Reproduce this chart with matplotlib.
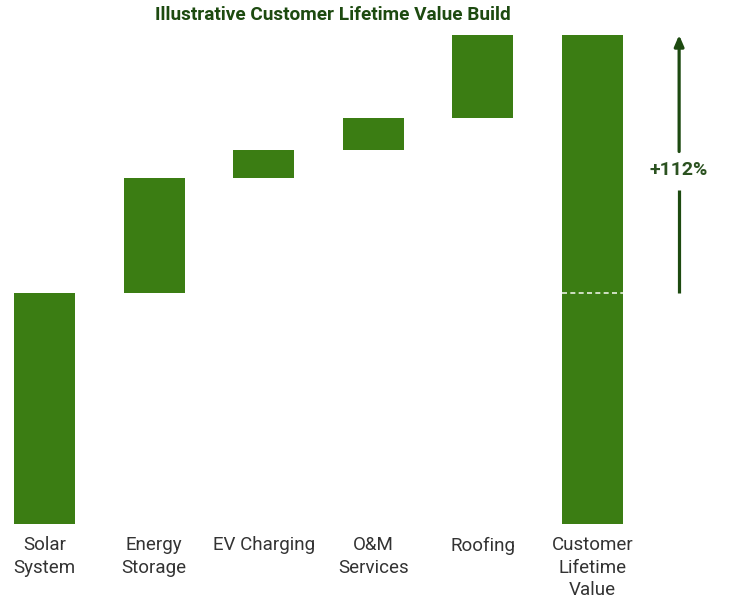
import matplotlib.pyplot as plt

plt.rcParams["font.family"] = ["Roboto", "DejaVu Sans"]

categories = ["Solar\nSystem", "Energy\nStorage", "EV Charging", "O&M\nServices", "Roofing",
              "Customer\nLifetime\nValue"]
steps      = [100, 50, 12, 14, 36]   # indexed to solar system = 100
total      = sum(steps)
uplift     = "+{0:.0f}%".format((total - steps[0]) / steps[0] * 100)

barColor   = "#3b7d13"
darkGreen  = "#1d4a10"

bottoms = []
running = 0
for s in steps:
    bottoms.append(running)
    running += s

fig = plt.figure(figsize=(7.29, 6.02), dpi=100)
ax = fig.add_axes([0, 0.1296, 1, 0.8206])

xs = list(range(len(categories)))
ax.bar(xs[:-1], steps, bottom=bottoms, width=0.556, color=barColor)
ax.bar(xs[-1], total, width=0.556, color=barColor)
ax.hlines(steps[0], xs[-1] - 0.278, xs[-1] + 0.278, colors="#e8f0e0", linestyles=(0, (3, 2)), linewidth=1.2)

# uplift arrow on the right
ax_x = 5.79
ax.plot([ax_x, ax_x], [steps[0], 145], color=darkGreen, linewidth=2.3, solid_capstyle="butt")
ax.annotate("", xy=(ax_x, total), xytext=(ax_x, 161.5),
            arrowprops=dict(arrowstyle="-|>,head_width=0.28,head_length=0.65", color=darkGreen,
                            linewidth=2.3, shrinkA=0, shrinkB=0))
ax.text(ax_x, 153.5, uplift, ha="center", va="center", fontsize=14, fontweight="bold", color="#2b5220")

ax.set_xlim(-0.406, 6.245)
ax.set_ylim(0, 214.2)
ax.set_xticks(xs)
ax.set_xticklabels(categories, fontsize=13.5, color="#333333", linespacing=1.32)
ax.tick_params(axis="x", length=0, pad=9)
ax.set_yticks([])
for side in ax.spines.values():
    side.set_visible(False)

fig.text(333 / 729, 1 - 15 / 602, "Illustrative Customer Lifetime Value Build", ha="center", va="center",
         fontsize=13.7, fontweight="bold", color=darkGreen)

fig.savefig("out.png", dpi=100)
